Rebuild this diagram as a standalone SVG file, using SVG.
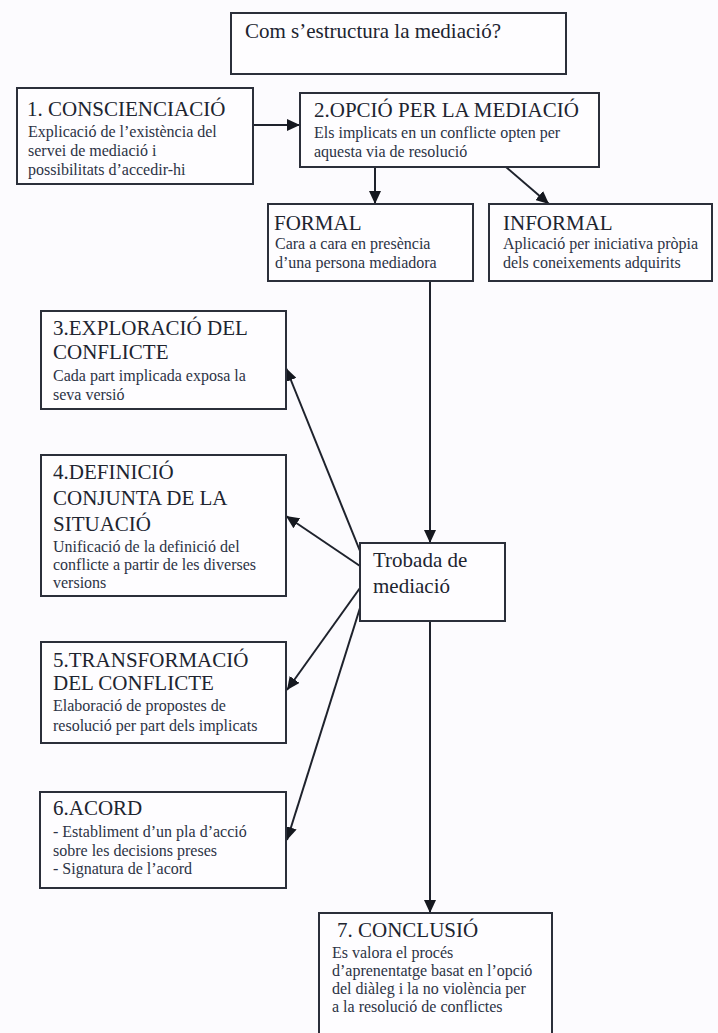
<svg xmlns="http://www.w3.org/2000/svg" width="718" height="1033" viewBox="0 0 718 1033">
<style>
.box{fill:#fefdff;stroke:#2b2f3a;stroke-width:2}
.h{font-family:"Liberation Serif","Times New Roman",serif;font-size:21px;fill:#20242f}
.b{font-family:"Liberation Serif","Times New Roman",serif;font-size:16px;fill:#2c3345}
.c{stroke:#1e222c;stroke-width:2;fill:none}
</style>
<defs>
<marker id="ah" markerUnits="userSpaceOnUse" markerWidth="14" markerHeight="12" refX="13" refY="6" orient="auto">
<path d="M0,0 L13,6 L0,12 Z" fill="#15181f"/>
</marker>
</defs>
<rect width="718" height="1033" fill="#fcfbfe"/>
<g id="connectors">
<line class="c" x1="253" y1="125" x2="300" y2="125" marker-end="url(#ah)"/>
<line class="c" x1="375" y1="167" x2="375" y2="204" marker-end="url(#ah)"/>
<line class="c" x1="506" y1="167" x2="549" y2="204" marker-end="url(#ah)"/>
<line class="c" x1="430" y1="281" x2="430" y2="543" marker-end="url(#ah)"/>
<line class="c" x1="360" y1="551" x2="286" y2="368" marker-end="url(#ah)"/>
<line class="c" x1="360" y1="566" x2="286" y2="516" marker-end="url(#ah)"/>
<line class="c" x1="360" y1="588" x2="287" y2="690" marker-end="url(#ah)"/>
<line class="c" x1="360" y1="608" x2="287" y2="840" marker-end="url(#ah)"/>
<line class="c" x1="430" y1="621" x2="430" y2="913" marker-end="url(#ah)"/>
</g>
<g id="title">
<rect class="box" x="231" y="13" width="335" height="61"/>
<text class="h" x="245" y="38">Com s’estructura la mediació?</text>
</g>
<g id="n1">
<rect class="box" x="17" y="88" width="236" height="96"/>
<text class="h" x="27" y="116">1. CONSCIENCIACIÓ</text>
<text class="b" x="28" y="137">Explicació de l’existència del</text>
<text class="b" x="28" y="156">servei de mediació i</text>
<text class="b" x="28" y="175">possibilitats d’accedir-hi</text>
</g>
<g id="n2">
<rect class="box" x="300" y="93" width="299" height="74"/>
<text class="h" x="314" y="117">2.OPCIÓ PER LA MEDIACIÓ</text>
<text class="b" x="314" y="138">Els implicats en un conflicte opten per</text>
<text class="b" x="314" y="157">aquesta via de resolució</text>
</g>
<g id="formal">
<rect class="box" x="268" y="204" width="205" height="77"/>
<text class="h" x="274" y="230">FORMAL</text>
<text class="b" x="275" y="249">Cara a cara en presència</text>
<text class="b" x="275" y="268">d’una persona mediadora</text>
</g>
<g id="informal">
<rect class="box" x="489" y="204" width="223" height="77"/>
<text class="h" x="503" y="230">INFORMAL</text>
<text class="b" x="503" y="249">Aplicació per iniciativa pròpia</text>
<text class="b" x="503" y="268">dels coneixements adquirits</text>
</g>
<g id="n3">
<rect class="box" x="41" y="311" width="245" height="98"/>
<text class="h" x="53" y="335">3.EXPLORACIÓ DEL</text>
<text class="h" x="53" y="359">CONFLICTE</text>
<text class="b" x="53" y="381">Cada part implicada exposa la</text>
<text class="b" x="53" y="400">seva versió</text>
</g>
<g id="n4">
<rect class="box" x="41" y="455" width="245" height="141"/>
<text class="h" x="53" y="479">4.DEFINICIÓ</text>
<text class="h" x="53" y="505">CONJUNTA DE LA</text>
<text class="h" x="53" y="531">SITUACIÓ</text>
<text class="b" x="53" y="552">Unificació de la definició del</text>
<text class="b" x="53" y="570">conflicte a partir de les diverses</text>
<text class="b" x="53" y="588">versions</text>
</g>
<g id="trobada">
<rect class="box" x="360" y="543" width="145" height="78"/>
<text class="h" x="373" y="567">Trobada de</text>
<text class="h" x="373" y="593">mediació</text>
</g>
<g id="n5">
<rect class="box" x="41" y="642" width="245" height="101"/>
<text class="h" x="53" y="667">5.TRANSFORMACIÓ</text>
<text class="h" x="53" y="690">DEL CONFLICTE</text>
<text class="b" x="53" y="711">Elaboració de propostes de</text>
<text class="b" x="53" y="731">resolució per part dels implicats</text>
</g>
<g id="n6">
<rect class="box" x="40" y="792" width="246" height="96"/>
<text class="h" x="53" y="815">6.ACORD</text>
<text class="b" x="53" y="837">- Establiment d’un pla d’acció</text>
<text class="b" x="53" y="856">sobre les decisions preses</text>
<text class="b" x="53" y="874">- Signatura de l’acord</text>
</g>
<g id="n7">
<rect class="box" x="319" y="913" width="233" height="140"/>
<text class="h" x="337" y="937">7. CONCLUSIÓ</text>
<text class="b" x="332" y="958">Es valora el procés</text>
<text class="b" x="332" y="976">d’aprenentatge basat en l’opció</text>
<text class="b" x="332" y="994">del diàleg i la no violència per</text>
<text class="b" x="332" y="1012">a la resolució de conflictes</text>
</g>
</svg>
